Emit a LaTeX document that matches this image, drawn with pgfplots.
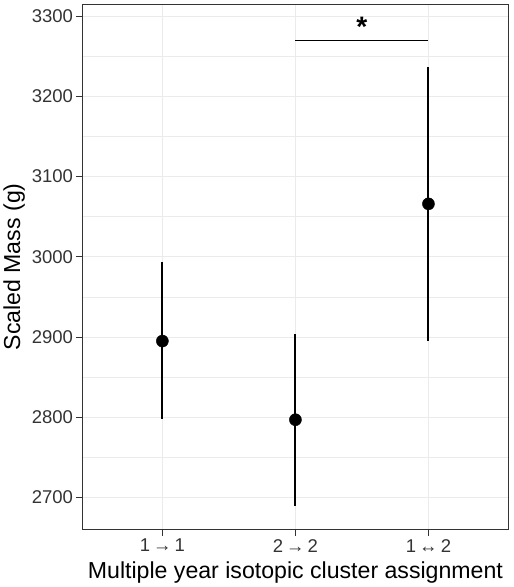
\documentclass[border=0pt]{standalone}
\usepackage{fontspec}
\setmainfont{Liberation Sans}
\usepackage{pgfplots}
\pgfplotsset{compat=1.18}
\definecolor{grid}{HTML}{EBEBEB}
\definecolor{frame}{HTML}{333333}
\begin{document}
\begin{tikzpicture}
\begin{axis}[
    scale only axis, width=422bp, height=521bp,
    xmin=0.4, xmax=3.6, ymin=2660, ymax=3315,
    xtick={1,2,3},
    xticklabels={1\,→\,1, 2\,→\,2, 1\,↔\,2},
    ytick={2700,2800,...,3300},
    minor ytick={2750,2850,...,3250},
    grid=both,
    major grid style={color=grid, line width=1.1bp},
    minor grid style={color=grid, line width=0.6bp},
    axis line style={color=frame, line width=0.9bp},
    tick style={color=frame, line width=0.9bp},
    tick align=outside, tick pos=left,
    major tick length=6bp, minor tick length=0bp,
    tick label style={font=\fontsize{18.4}{18}\selectfont, color=black!80},
    label style={font=\fontsize{23}{24}\selectfont},
    xlabel={Multiple year isotopic cluster assignment},
    ylabel={Scaled Mass (g)},
    xlabel style={yshift=-3bp},
    /pgf/number format/assume math mode=true,
    /pgf/number format/1000 sep={},
]
\addplot[only marks, mark=*, mark size=6bp, black,
    error bars/.cd, y dir=both, y explicit, error mark=none,
    error bar style={line width=2bp, black}]
    table[x=x, y=y, y error plus=ep, y error minus=em] {
x y    ep  em
1 2895 99  97
2 2797 107 108
3 3066 171 171
};
% significance bracket
\addplot[black, line width=1bp] coordinates {(2,3270) (3,3270)};
\node[anchor=base, font=\fontsize{28}{28}\selectfont\bfseries] at (axis cs:2.5,3275) {*};
\end{axis}
\path ([shift={(5bp,4bp)}]current axis.north east);
\end{tikzpicture}
\end{document}
